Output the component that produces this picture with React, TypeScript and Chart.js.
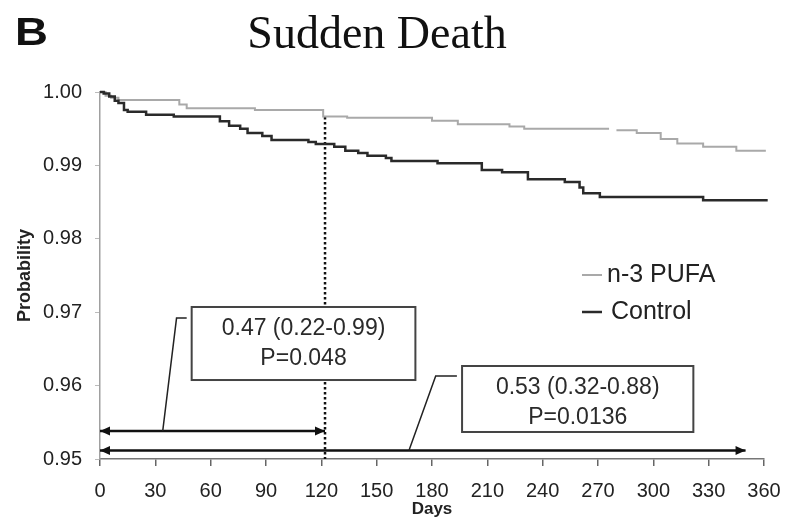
import React, { useEffect, useRef } from "react";
import { Chart, registerables } from "chart.js";

Chart.register(...registerables);

// ---- Data ----
const chartTitle = "Sudden Death";
const panelLetter = "B";
const xAxisTitle = "Days";
const yAxisTitle = "Probability";

const xMin = 0;
const xMax = 360;
const xStep = 30;
const yMin = 0.95;
const yMax = 1.0;
const yStep = 0.01;

const pufaLabel = "n-3 PUFA";
const pufaDays = [0, 3, 6, 10, 43, 47, 84, 121, 134, 180, 194, 222, 230, 276, 277, 280, 291, 304, 313, 327, 345, 361];
const pufaSurv = [1.0, 0.9995, 0.9992, 0.9989, 0.9983, 0.9978, 0.99755, 0.99665, 0.9965, 0.9961, 0.9956, 0.9953, 0.995, 0.995, null, 0.9948, 0.9944, 0.9936, 0.993, 0.99255, 0.992, 0.992];

const controlLabel = "Control";
const controlDays = [0, 2, 5, 8, 10, 13, 15, 25, 40, 65, 70, 76, 80, 88, 93, 113, 117, 127, 133, 140, 145, 155, 158, 183, 207, 218, 232, 252, 260, 262, 271, 327, 362];
const controlSurv = [1.0, 0.9998, 0.9994, 0.9988, 0.9985, 0.99755, 0.9973, 0.9969, 0.99665, 0.996, 0.9954, 0.995, 0.9944, 0.994, 0.99346, 0.9932, 0.9929, 0.99255, 0.992, 0.9917, 0.9913, 0.991, 0.9906, 0.9903, 0.98937, 0.98906, 0.9881, 0.98774, 0.987, 0.9862, 0.9857, 0.98524, 0.98524];

const legendOrder = [pufaLabel, controlLabel];

const cutoffDays = [122, 122];
const cutoffValues = [0.9966, 0.95];

const arrowShortDays = [0, 122];
const arrowShortValue = 0.9538;
const arrowLongDays = [0, 350];
const arrowLongValue = 0.95116;

const box1Lines = ["0.47 (0.22-0.99)", "P=0.048"];
const box1LineValues = [0.96778, 0.96365];
const box1Days = [49.7, 171];
const box1Values = [0.97071, 0.96076];
const leader1Days = [34, 41.5, 47];
const leader1Values = [0.9538, 0.9692, 0.9692];

const box2Lines = ["0.53 (0.32-0.88)", "P=0.0136"];
const box2LineValues = [0.95967, 0.95559];
const box2Days = [196.3, 321.7];
const box2Values = [0.96267, 0.95368];
const leader2Days = [167.5, 182, 193.5];
const leader2Values = [0.95116, 0.96131, 0.96131];

const SANS = '"Liberation Sans", Arial, Helvetica, sans-serif';
const SERIF = '"Liberation Serif", "Times New Roman", serif';

const pts = (xs: number[], ys: (number | null)[]) => xs.map((x, i) => ({ x, y: ys[i] }));

const annotationPlugin = {
  id: "annotations",
  afterDraw(chart: any) {
    const { ctx } = chart;
    const x = chart.scales.x;
    const y = chart.scales.y;
    const px = (v: number) => x.getPixelForValue(v);
    const py = (v: number) => y.getPixelForValue(v);

    ctx.save();
    // Title
    ctx.fillStyle = "#111";
    ctx.font = `46px ${SERIF}`;
    ctx.textAlign = "center";
    ctx.textBaseline = "alphabetic";
    ctx.fillText(chartTitle, 377, 48);
    // Panel letter
    ctx.save();
    ctx.translate(15, 45);
    ctx.scale(1.2, 1);
    ctx.font = `bold 38px ${SANS}`;
    ctx.textAlign = "left";
    ctx.fillText(panelLetter, 0, 0);
    ctx.restore();

    // Arrowheads
    const head = (tipX: number, tipY: number, dir: number) => {
      ctx.beginPath();
      ctx.moveTo(tipX, tipY);
      ctx.lineTo(tipX - dir * 10, tipY - 4.5);
      ctx.lineTo(tipX - dir * 10, tipY + 4.5);
      ctx.closePath();
      ctx.fillStyle = "#111";
      ctx.fill();
    };
    [[arrowShortDays, arrowShortValue], [arrowLongDays, arrowLongValue]].forEach(([d, v]: any) => {
      head(px(d[0]), py(v), -1);
      head(px(d[1]), py(v), 1);
    });

    // Leader lines
    ctx.strokeStyle = "#222";
    ctx.lineWidth = 1.5;
    [[leader1Days, leader1Values], [leader2Days, leader2Values]].forEach(([ds, vs]: any) => {
      ctx.beginPath();
      ds.forEach((d: number, i: number) => {
        if (i === 0) ctx.moveTo(px(d), py(vs[i]));
        else ctx.lineTo(px(d), py(vs[i]));
      });
      ctx.stroke();
    });

    // Boxes
    const boxes = [
      { days: box1Days, values: box1Values, lines: box1Lines, lineValues: box1LineValues },
      { days: box2Days, values: box2Values, lines: box2Lines, lineValues: box2LineValues },
    ];
    boxes.forEach((b) => {
      const x0 = px(b.days[0]);
      const x1 = px(b.days[1]);
      const y0 = py(b.values[0]);
      const y1 = py(b.values[1]);
      ctx.fillStyle = "#fff";
      ctx.fillRect(x0, y0, x1 - x0, y1 - y0);
      ctx.strokeStyle = "#444";
      ctx.lineWidth = 2;
      ctx.strokeRect(x0, y0, x1 - x0, y1 - y0);
      ctx.fillStyle = "#2a2a2a";
      ctx.font = `23px ${SANS}`;
      ctx.textAlign = "center";
      ctx.textBaseline = "middle";
      b.lines.forEach((t, i) => ctx.fillText(t, (x0 + x1) / 2, py(b.lineValues[i])));
    });

    // Legend
    legendOrder.forEach((label, i) => {
      const d = chart.data.datasets.find((ds: any) => ds.label === label);
      if (!d) return;
      const ly = 275 + i * 37;
      ctx.strokeStyle = d.borderColor;
      ctx.lineWidth = d.borderWidth;
      ctx.beginPath();
      ctx.moveTo(582, ly);
      ctx.lineTo(602, ly);
      ctx.stroke();
      ctx.fillStyle = "#222";
      ctx.font = `25px ${SANS}`;
      ctx.textAlign = "left";
      ctx.textBaseline = "middle";
      ctx.fillText(d.label, 607 + i * 4, ly);
    });
    ctx.restore();
  },
};

export default function App() {
  const ref = useRef<HTMLCanvasElement>(null);

  useEffect(() => {
    const canvas = ref.current;
    if (!canvas) return;
    const chart = new Chart(canvas, {
      type: "line",
      data: {
        datasets: [
          {
            label: controlLabel,
            data: pts(controlDays, controlSurv),
            borderColor: "#2a2a2a",
            borderWidth: 2.5,
            stepped: true,
            pointRadius: 0,
            fill: false,
            clip: false,
          } as any,
          {
            label: pufaLabel,
            data: pts(pufaDays, pufaSurv),
            borderColor: "#a9a9a9",
            borderWidth: 2,
            stepped: true,
            pointRadius: 0,
            fill: false,
            spanGaps: false,
            clip: false,
          } as any,
          {
            label: "cutoff",
            data: pts(cutoffDays, cutoffValues),
            borderColor: "#111",
            borderWidth: 2.5,
            borderDash: [2.5, 2.5],
            pointRadius: 0,
            fill: false,
            clip: false,
          } as any,
          {
            label: "arrowShort",
            data: pts(arrowShortDays, [arrowShortValue, arrowShortValue]),
            borderColor: "#111",
            borderWidth: 2.5,
            pointRadius: 0,
            fill: false,
            clip: false,
          } as any,
          {
            label: "arrowLong",
            data: pts(arrowLongDays, [arrowLongValue, arrowLongValue]),
            borderColor: "#111",
            borderWidth: 2.5,
            pointRadius: 0,
            fill: false,
            clip: false,
          } as any,
        ],
      },
      options: {
        responsive: false,
        devicePixelRatio: 1,
        animation: false,
        layout: { padding: { top: 92, right: 32, bottom: 0, left: 0 } },
        plugins: {
          legend: { display: false },
          tooltip: { enabled: false },
          title: { display: false },
        },
        scales: {
          x: {
            type: "linear",
            min: xMin,
            max: xMax,
            afterFit: (s: any) => {
              s.height = 62;
            },
            ticks: {
              stepSize: xStep,
              color: "#222",
              font: { family: SANS, size: 20 },
              padding: 13,
              maxRotation: 0,
              autoSkip: false,
            },
            grid: {
              drawOnChartArea: false,
              drawTicks: true,
              tickLength: 7,
              color: "#666",
              lineWidth: 1.5,
            },
            border: { color: "#777", width: 1.5 },
            title: {
              display: true,
              text: xAxisTitle,
              color: "#222",
              font: { family: SANS, size: 17, weight: "bold" },
              padding: { top: 0, bottom: 1 },
            },
          },
          y: {
            type: "linear",
            min: yMin,
            max: yMax,
            afterFit: (s: any) => {
              s.width = 100;
            },
            ticks: {
              stepSize: yStep,
              color: "#222",
              font: { family: SANS, size: 20 },
              padding: 13,
              callback: (v: any) => Number(v).toFixed(2),
            },
            grid: {
              drawOnChartArea: false,
              drawTicks: true,
              tickLength: 5,
              color: "#bbb",
              lineWidth: 1,
            },
            border: { color: "#a0a0a0", width: 1.5 },
            title: {
              display: true,
              text: yAxisTitle,
              color: "#222",
              font: { family: SANS, size: 18, weight: "bold" },
              padding: { top: 14, bottom: 0 },
            },
          },
        },
      } as any,
      plugins: [annotationPlugin],
    });
    return () => chart.destroy();
  }, []);

  return (
    <div style={{ position: "fixed", left: 0, top: 0, width: 796, height: 521, background: "#fff" }}>
      <canvas ref={ref} width={796} height={521} style={{ display: "block", width: 796, height: 521 }} />
    </div>
  );
}
